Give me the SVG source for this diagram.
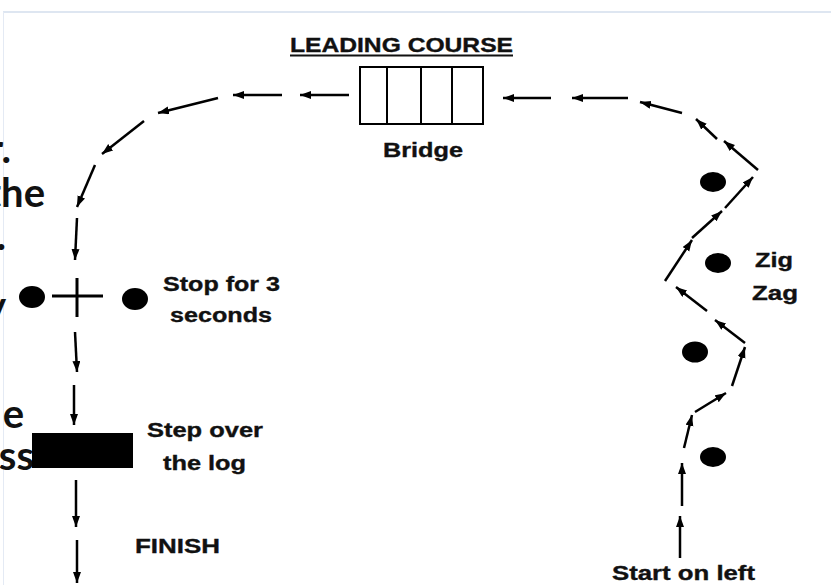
<svg xmlns="http://www.w3.org/2000/svg" width="831" height="585" viewBox="0 0 831 585">
<style>
.lbl{font-family:"Liberation Sans",Arial,sans-serif;font-weight:bold;font-size:20px;fill:#111;stroke:#111;stroke-width:0.35}
.frag{font-family:Lato,"Liberation Sans",sans-serif;font-weight:bold;font-size:40px;fill:#111}
.arr{stroke:#000;stroke-width:2.5;fill:none;marker-end:url(#ah)}
.dot{fill:#000}
.box{fill:#fff;stroke:#000;stroke-width:2}
</style>
<defs>
<marker id="ah" markerUnits="userSpaceOnUse" markerWidth="12" markerHeight="9" refX="11" refY="4" orient="auto">
<path d="M0,0 L11,4 L0,8 z" fill="#000"/>
</marker>
</defs>
<rect width="831" height="585" fill="#fff"/>
<g id="frame">
<line x1="3" y1="12" x2="831" y2="12" stroke="#d3deec" stroke-width="1.5"/>
<line x1="3.5" y1="12" x2="3.5" y2="585" stroke="#e4eaf4" stroke-width="1"/>
</g>
<g id="slide-fragments">
<text class="frag" x="11" y="163" text-anchor="end">r.</text>
<text class="frag" x="45" y="207" text-anchor="end">the</text>
<text class="frag" x="6" y="250" text-anchor="end">.</text>
<text class="frag" x="6" y="320" text-anchor="end">y</text>
<text class="frag" x="24" y="428" text-anchor="end">e</text>
<text class="frag" x="34" y="470" text-anchor="end">ess</text>
</g>
<g id="connectors">
<line class="arr" x1="349" y1="95" x2="300" y2="95"/>
<line class="arr" x1="282" y1="95" x2="233" y2="95"/>
<line class="arr" x1="218" y1="98" x2="158" y2="113"/>
<line class="arr" x1="144" y1="121" x2="102" y2="154"/>
<line class="arr" x1="95" y1="165" x2="77" y2="207"/>
<line class="arr" x1="77" y1="218" x2="75" y2="260"/>
<line class="arr" x1="75" y1="332" x2="77" y2="372"/>
<line class="arr" x1="74" y1="385" x2="74" y2="425"/>
<line class="arr" x1="76" y1="480" x2="76" y2="527"/>
<line class="arr" x1="77" y1="540" x2="77" y2="583"/>
<line class="arr" x1="551" y1="98" x2="503" y2="98"/>
<line class="arr" x1="628" y1="98" x2="572" y2="98"/>
<line class="arr" x1="682" y1="113" x2="640" y2="102"/>
<line class="arr" x1="717" y1="139" x2="696" y2="119"/>
<line class="arr" x1="758" y1="170" x2="724" y2="141"/>
<line class="arr" x1="725" y1="208" x2="753" y2="177"/>
<line class="arr" x1="692" y1="238" x2="722" y2="211"/>
<line class="arr" x1="665" y1="281" x2="692" y2="240"/>
<line class="arr" x1="707" y1="311" x2="676" y2="287"/>
<line class="arr" x1="745" y1="343" x2="715" y2="320"/>
<line class="arr" x1="732" y1="386" x2="745" y2="347"/>
<line class="arr" x1="695" y1="412" x2="726" y2="393"/>
<line class="arr" x1="684" y1="448" x2="692" y2="415"/>
<line class="arr" x1="682" y1="506" x2="682" y2="463"/>
<line class="arr" x1="680" y1="558" x2="680" y2="516"/>
</g>
<g id="title">
<text class="lbl" x="290" y="52" textLength="223" lengthAdjust="spacingAndGlyphs">LEADING COURSE</text>
<line x1="290" y1="55.5" x2="513" y2="55.5" stroke="#111" stroke-width="2"/>
</g>
<g id="bridge">
<rect class="box" x="360" y="67" width="123" height="57"/>
<line x1="387" y1="67" x2="387" y2="125" stroke="#000" stroke-width="2"/>
<line x1="421" y1="67" x2="421" y2="124" stroke="#000" stroke-width="2"/>
<line x1="452" y1="67" x2="452" y2="124" stroke="#000" stroke-width="2"/>
<text class="lbl" x="383" y="157" textLength="80" lengthAdjust="spacingAndGlyphs">Bridge</text>
</g>
<g id="stop">
<ellipse class="dot" cx="32" cy="297" rx="13" ry="11"/>
<ellipse class="dot" cx="135" cy="299" rx="13" ry="11"/>
<line x1="52" y1="296" x2="103" y2="296" stroke="#000" stroke-width="3"/>
<line x1="77" y1="278" x2="77" y2="317" stroke="#000" stroke-width="3"/>
<text class="lbl" x="163" y="291" textLength="117" lengthAdjust="spacingAndGlyphs">Stop for 3</text>
<text class="lbl" x="170" y="322" textLength="102" lengthAdjust="spacingAndGlyphs">seconds</text>
</g>
<g id="log">
<rect x="32" y="433" width="101" height="35" fill="#000"/>
<text class="lbl" x="147" y="437" textLength="116" lengthAdjust="spacingAndGlyphs">Step over</text>
<text class="lbl" x="163" y="470" textLength="83" lengthAdjust="spacingAndGlyphs">the log</text>
</g>
<g id="finish">
<text class="lbl" x="135" y="553" font-size="21" textLength="85" lengthAdjust="spacingAndGlyphs">FINISH</text>
</g>
<g id="zigzag">
<ellipse class="dot" cx="713" cy="182" rx="13" ry="10"/>
<ellipse class="dot" cx="718" cy="263" rx="13" ry="10"/>
<ellipse class="dot" cx="695" cy="352" rx="13" ry="10.5"/>
<ellipse class="dot" cx="713" cy="457" rx="13" ry="10"/>
<text class="lbl" x="755" y="267" textLength="38" lengthAdjust="spacingAndGlyphs">Zig</text>
<text class="lbl" x="752" y="300" textLength="46" lengthAdjust="spacingAndGlyphs">Zag</text>
</g>
<g id="start">
<text class="lbl" x="612" y="580" textLength="143" lengthAdjust="spacingAndGlyphs">Start on left</text>
</g>
</svg>
